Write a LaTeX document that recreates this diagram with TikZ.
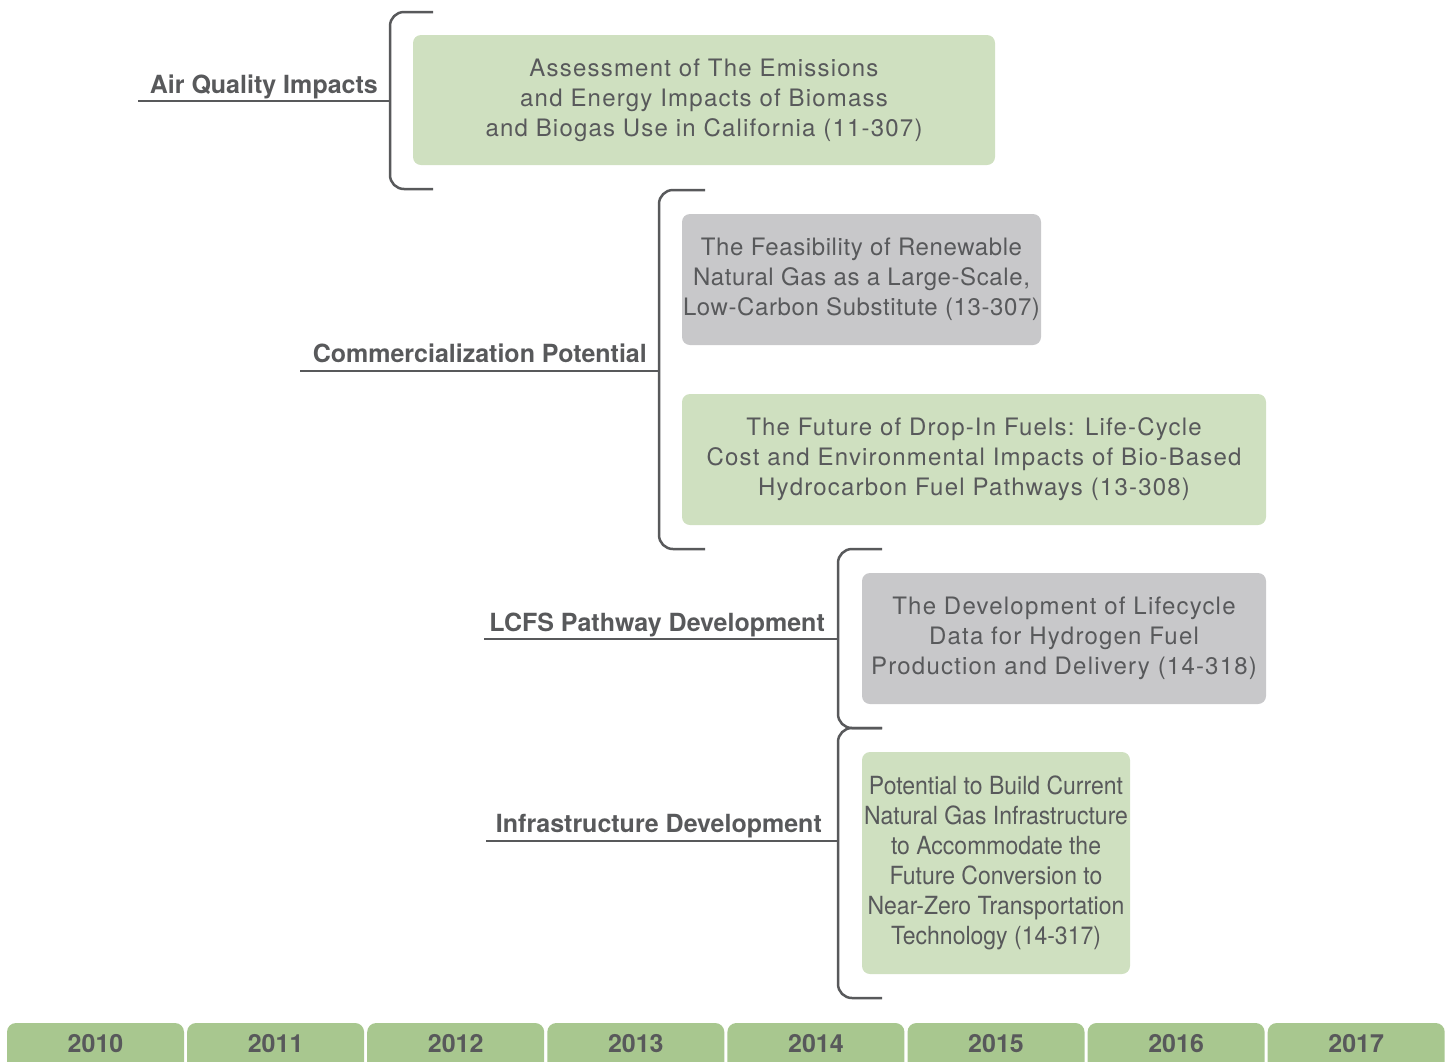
\documentclass[tikz,border=0pt]{standalone}
\usepackage{fontspec}
\setmainfont{TeX Gyre Heros}
\newfontfamily\condfont{TeX Gyre Heros}[FakeStretch=0.92]
\newfontfamily\widefont{TeX Gyre Heros}[LetterSpace=5]
\newfontfamily\snugfont{TeX Gyre Heros}[LetterSpace=2.5]
\usetikzlibrary{positioning,calc}
\definecolor{boxgreen}{RGB}{207,224,192}
\definecolor{boxgray}{RGB}{200,200,202}
\definecolor{tabgreen}{RGB}{168,199,143}
\definecolor{inkgray}{RGB}{88,89,91}

\begin{document}
\begin{tikzpicture}[
    x=1pt, y=-1pt,
    topic/.style={anchor=base east, inner sep=0pt, text=inkgray,
                  font=\fontsize{25}{28}\selectfont\bfseries},
    study/.style={rectangle, rounded corners=8pt, inner sep=0pt, align=center,
                  text=inkgray, font=\fontsize{24}{30}\widefont},
    brace/.style={draw=inkgray, line width=2.5pt, rounded corners=14pt},
    rule/.style={draw=inkgray, line width=2.5pt},
    yeartab/.style={rectangle, rounded corners=9pt, fill=tabgreen, text=inkgray,
                    minimum width=177pt, minimum height=52pt, inner sep=0pt,
                    text height=18pt, text depth=12pt,
                    font=\fontsize{25}{28}\selectfont\bfseries},
  ]
    \clip (0,0) rectangle (1454,1061);

    % Air quality
    \node[study, fill=boxgreen, minimum width=582pt, minimum height=130pt] (s11)
         at (704,100) {Assessment of The Emissions\\and Energy Impacts of Biomass\\and Biogas Use in California (11-307)};
    \node[topic] (aq) at (378,93) {Air Quality Impacts};
    \coordinate (aqL) at (138,101);
    \coordinate (b1t) at (433,12);
    \coordinate (b1m) at (390,101);
    \coordinate (b1b) at (433,189);
    \draw[brace] (b1t) -| (b1m) |- (b1b);
    \draw[rule] (aqL) -- (b1m);

    % Commercialization
    \node[study, fill=boxgray, minimum width=359pt, minimum height=131pt,
          inner xsep=-5pt, font=\fontsize{24}{30}\snugfont] (s13a)
         at (861.5,279.5) {The Feasibility of Renewable\\Natural Gas as a Large-Scale,\\Low-Carbon Substitute (13-307)};
    \node[study, fill=boxgreen, minimum width=584pt, minimum height=131pt] (s13b)
         at (974,459.5) {The Future of Drop-In Fuels: Life-Cycle\\Cost and Environmental Impacts of Bio-Based\\Hydrocarbon Fuel Pathways (13-308)};
    \node[topic] (cp) at (647,362) {Commercialization Potential};
    \coordinate (cpL) at (300,371);
    \coordinate (b2t) at (705,190);
    \coordinate (b2m) at (659,371);
    \coordinate (b2b) at (705,549);
    \draw[brace] (b2t) -| (b2m) |- (b2b);
    \draw[rule] (cpL) -- (b2m);

    % LCFS
    \node[study, fill=boxgray, minimum width=404pt, minimum height=131pt] (s14a)
         at (1064,638.5) {The Development of Lifecycle\\Data for Hydrogen Fuel\\Production and Delivery (14-318)};
    \node[topic] (lcfs) at (825,631) {LCFS Pathway Development};
    \coordinate (lcL) at (484,639);
    \coordinate (b3t) at (882,549);
    \coordinate (b3m) at (838,639);
    \coordinate (b3b) at (882,728);
    \draw[brace] (b3t) -| (b3m) |- (b3b);
    \draw[rule] (lcL) -- (b3m);

    % Infrastructure
    \node[study, fill=boxgreen, minimum width=268pt, minimum height=222pt,
          font=\fontsize{25}{30}\condfont] (s14b)
         at (996,863) {Potential to Build Current\\Natural Gas Infrastructure\\to Accommodate the\\Future Conversion to\\Near-Zero Transportation\\Technology (14-317)};
    \node[topic] (inf) at (822,832) {Infrastructure Development};
    \coordinate (inL) at (486,841);
    \coordinate (b4t) at (882,728);
    \coordinate (b4m) at (838,841);
    \coordinate (b4b) at (882,998);
    \draw[brace] (b4t) -| (b4m) |- (b4b);
    \draw[rule] (inL) -- (b4m);

    % Years
    \foreach \yr [count=\i from 0] in {2010,...,2017}
      \node[yeartab] (y\yr) at (95.5+\i*180.1, 1049) {\yr};
\end{tikzpicture}
\end{document}
